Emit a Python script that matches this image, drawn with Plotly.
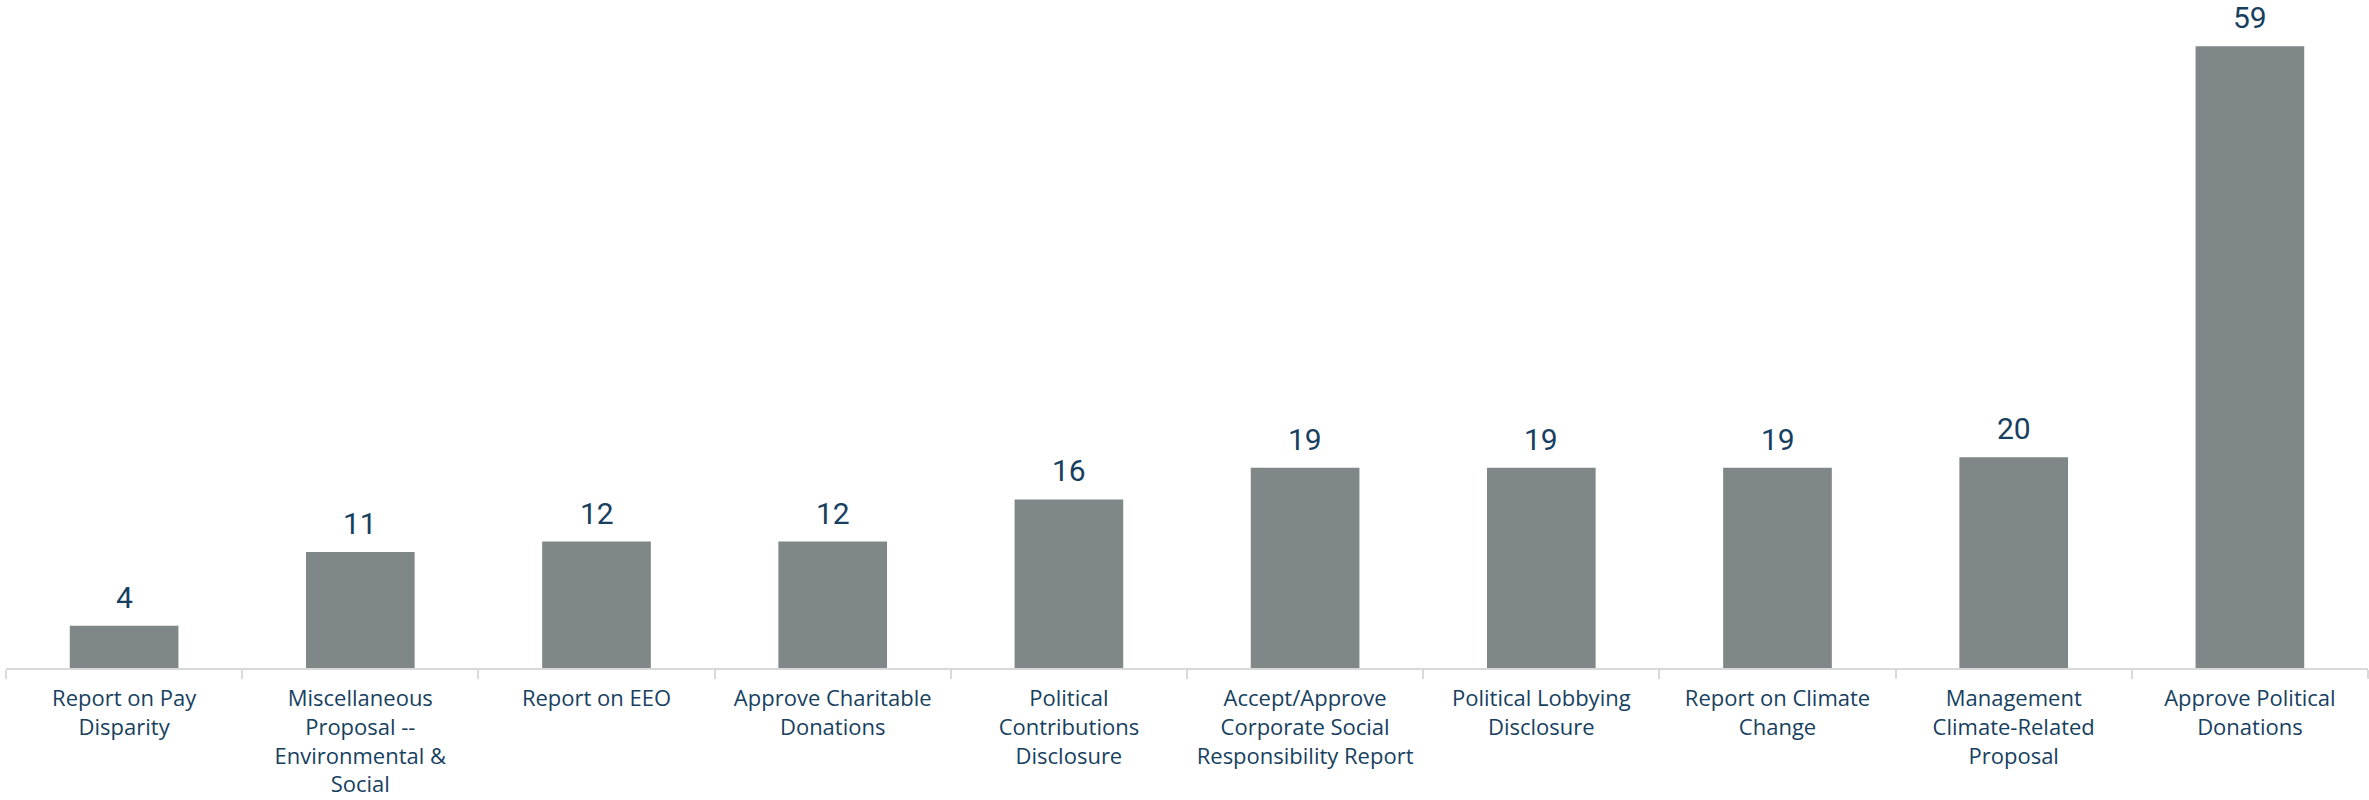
import plotly.graph_objects as go

categories = [
    "Report on Pay<br>Disparity",
    "Miscellaneous<br>Proposal --<br>Environmental &<br>Social",
    "Report on EEO",
    "Approve Charitable<br>Donations",
    "Political<br>Contributions<br>Disclosure",
    "Accept/Approve<br>Corporate Social<br>Responsibility Report",
    "Political Lobbying<br>Disclosure",
    "Report on Climate<br>Change",
    "Management<br>Climate-Related<br>Proposal",
    "Approve Political<br>Donations",
]
counts = [4, 11, 12, 12, 16, 19, 19, 19, 20, 59]

BAR = "#7f8789"
TEXT = "#173f5f"
AXIS = "#d9d9d9"

fig = go.Figure(
    go.Bar(
        x=categories,
        y=counts,
        marker=dict(color=BAR, line=dict(width=0)),
        hoverinfo="x+y",
    )
)

# value labels sitting above each bar
for cat, v in zip(categories, counts):
    fig.add_annotation(
        x=cat,
        y=v,
        text=str(v),
        showarrow=False,
        yanchor="bottom",
        yshift=9,
        font=dict(family="Roboto", size=30, color=TEXT),
    )

fig.update_layout(
    width=2369,
    height=800,
    margin=dict(l=6, r=1, t=0, b=132, autoexpand=False),
    paper_bgcolor="white",
    plot_bgcolor="white",
    bargap=0.54,
    showlegend=False,
    font=dict(family="Open Sans", color=TEXT),
    xaxis=dict(
        automargin=False,
        showline=True,
        linecolor=AXIS,
        linewidth=2,
        ticks="outside",
        tickson="boundaries",
        ticklen=9,
        tickwidth=2,
        tickcolor=AXIS,
        tickangle=0,
        ticklabelstandoff=10,
        tickfont=dict(family="Open Sans", size=22, color=TEXT),
        showgrid=False,
    ),
    yaxis=dict(
        range=[0, 63.4],
        visible=False,
        automargin=False,
        showgrid=False,
        zeroline=False,
    ),
)

fig.write_html("out.html")
